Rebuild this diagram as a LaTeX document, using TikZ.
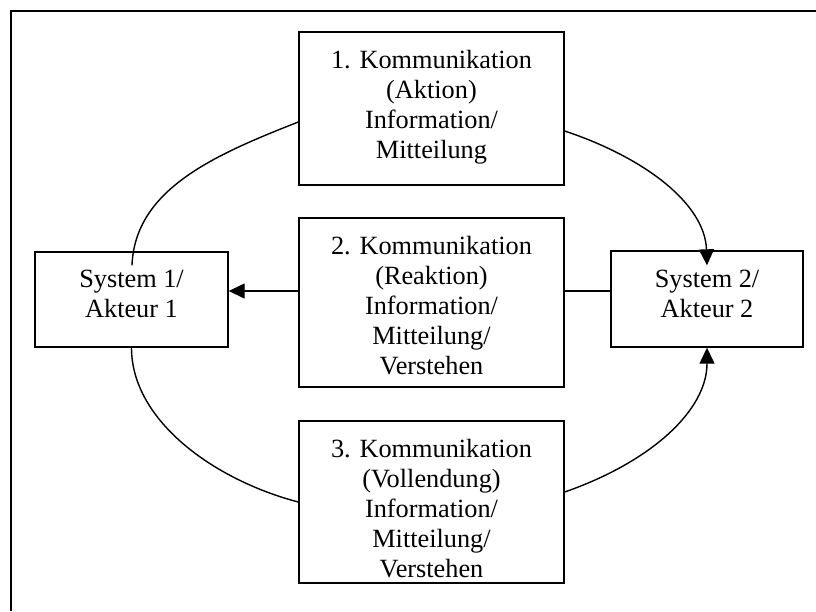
\documentclass[tikz,border=0pt]{standalone}
\usepackage{fontspec}
\setmainfont{Liberation Serif}
\usetikzlibrary{calc,arrows.meta}

\tikzset{
  box/.style={draw, line width=1.4pt, fill=white, rectangle, inner sep=0pt},
  txt/.style={font=\fontsize{26.3}{30}\selectfont, align=center, inner sep=0pt, anchor=north},
  con/.style={line width=1.4pt},
  tip/.style={-{Triangle[length=16pt,width=15pt]}},
  frame/.style={line width=2pt}
}

\begin{document}
\begin{tikzpicture}[x=1pt,y=-1pt]
  \useasboundingbox (0,0) rectangle (816,611);

  % outer frame (only top and left edges lie inside the page)
  \coordinate (fbl) at (11,611);
  \coordinate (ftl) at (11,11);
  \coordinate (ftr) at (816,11);
  \draw[frame] (fbl) -- (ftl) -- (ftr);

  % boxes
  \node[box, minimum width=265pt, minimum height=153pt] (k1) at (431.5,108.5) {};
  \node[box, minimum width=265pt, minimum height=169pt] (k2) at (431.5,302.5) {};
  \node[box, minimum width=265pt, minimum height=162pt] (k3) at (431.5,502) {};
  \node[box, minimum width=193pt, minimum height=95pt] (s1) at (131.5,299.5) {};
  \node[box, minimum width=192pt, minimum height=96pt] (s2) at (707,299) {};

  % box texts (top of first line = first baseline - strut height)
  \node[txt] (k1t) at (431.5,47) {\strut 1. Kommunikation\\(Aktion)\\Information/\\Mitteilung};
  \node[txt] (k2t) at (431.5,233) {\strut 2. Kommunikation\\(Reaktion)\\Information/\\Mitteilung/\\Verstehen};
  \node[txt] (k3t) at (431.5,436) {\strut 3. Kommunikation\\(Vollendung)\\Information/\\Mitteilung/\\Verstehen};
  \node[txt] (s1t) at (131.5,266) {\strut System 1/\\Akteur 1};
  \node[txt] (s2t) at (707,266) {\strut System 2/\\Akteur 2};

  % connectors
  \draw[con] ($(s1.north)+(0.5,14)$) .. controls +(3,-76) and +(-84,33) .. ($(k1.west)+(0,13.5)$);
  \draw[con,tip] ($(k1.east)+(0,22.5)$) .. controls +(81,27) and +(-2,-61) .. ($(s2.north)+(0,15)$);
  \coordinate (m1) at ($(k2.west)+(0,-11.5)$);
  \draw[con,tip] (m1) -- (m1 -| s1.east);
  \coordinate (m2) at ($(k2.east)+(0,-11.5)$);
  \draw[con] (m2) -- (m2 -| s2.west);
  \draw[con] (s1.south) .. controls +(0,73) and +(-84,-22) .. (k3.west);
  \draw[con,tip] ($(k3.east)+(0,-10)$) .. controls +(86,-30) and +(0,63) .. (s2.south);
\end{tikzpicture}
\end{document}
